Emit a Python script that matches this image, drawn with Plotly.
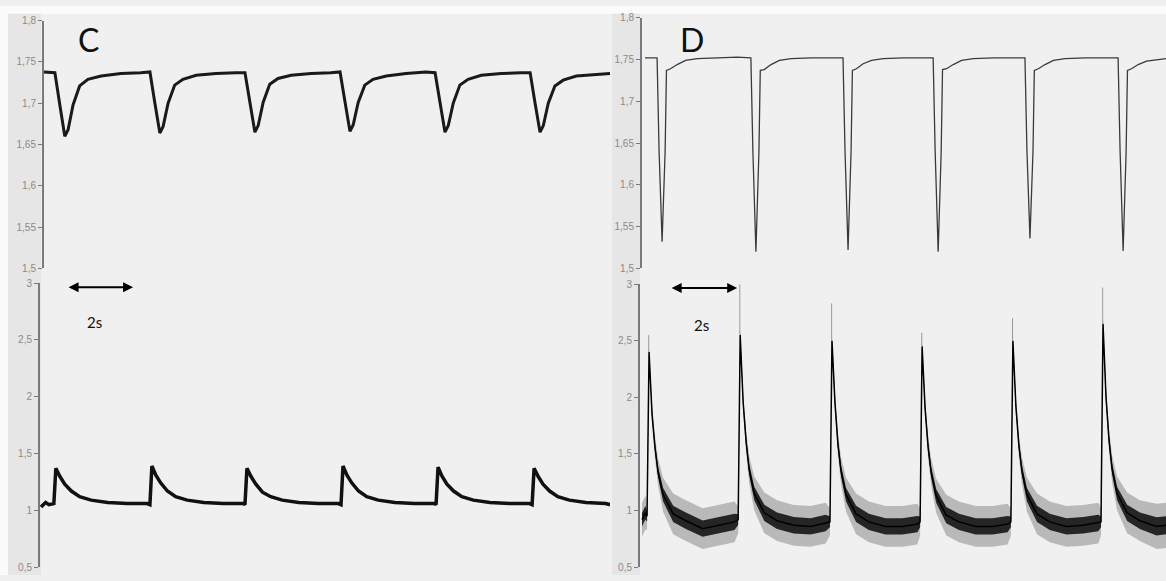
import plotly.graph_objects as go

# ---------------- data (time in s, signal in V) ----------------
C_TOP_T = [0.00, 0.30,
           0.33, 0.48, 0.63, 0.73, 0.88, 1.08, 1.33, 1.73, 2.33, 2.93,
           3.21, 3.36, 3.51, 3.61, 3.76, 3.96, 4.21, 4.61, 5.21, 5.81,
           6.09, 6.24, 6.39, 6.49, 6.64, 6.84, 7.09, 7.49, 8.09, 8.69,
           8.97, 9.12, 9.27, 9.37, 9.52, 9.72, 9.97, 10.37, 10.97, 11.57,
           11.85, 12.00, 12.15, 12.25, 12.40, 12.60, 12.85, 13.25, 13.85, 14.45,
           14.73, 14.88, 15.03, 15.13, 15.28, 15.48, 15.73, 16.13, 16.73, 17.15]
C_TOP_V = [1.738, 1.737,
           1.737, 1.698, 1.660, 1.668, 1.698, 1.721, 1.729, 1.733, 1.736, 1.737,
           1.738, 1.700, 1.664, 1.672, 1.700, 1.722, 1.729, 1.734, 1.736, 1.737,
           1.737, 1.701, 1.665, 1.673, 1.701, 1.723, 1.730, 1.734, 1.736, 1.737,
           1.738, 1.702, 1.666, 1.674, 1.701, 1.722, 1.729, 1.733, 1.736, 1.738,
           1.737, 1.701, 1.665, 1.673, 1.700, 1.722, 1.729, 1.734, 1.736, 1.737,
           1.737, 1.700, 1.665, 1.673, 1.700, 1.721, 1.728, 1.733, 1.735, 1.736]

C_BOT_T = [-0.09, 0.05, 0.15, 0.30,
           0.36, 0.48, 0.63, 0.83, 1.08, 1.43, 1.93, 2.53, 3.13, 3.21,
           3.27, 3.39, 3.54, 3.74, 3.99, 4.34, 4.84, 5.44, 6.04, 6.09,
           6.15, 6.27, 6.42, 6.62, 6.87, 7.22, 7.72, 8.32, 8.92, 9.00,
           9.06, 9.18, 9.33, 9.53, 9.78, 10.13, 10.63, 11.23, 11.83, 11.88,
           11.94, 12.06, 12.21, 12.41, 12.66, 13.01, 13.51, 14.11, 14.71, 14.79,
           14.85, 14.97, 15.12, 15.32, 15.57, 15.92, 16.42, 17.02, 17.15]
C_BOT_V = [1.03, 1.07, 1.05, 1.06,
           1.37, 1.30, 1.23, 1.17, 1.12, 1.09, 1.07, 1.06, 1.06, 1.05,
           1.39, 1.31, 1.24, 1.17, 1.12, 1.09, 1.07, 1.06, 1.06, 1.05,
           1.37, 1.30, 1.23, 1.16, 1.12, 1.09, 1.07, 1.06, 1.06, 1.05,
           1.39, 1.31, 1.24, 1.17, 1.12, 1.09, 1.07, 1.06, 1.06, 1.05,
           1.38, 1.30, 1.23, 1.17, 1.12, 1.09, 1.07, 1.06, 1.06, 1.05,
           1.37, 1.30, 1.23, 1.17, 1.12, 1.09, 1.07, 1.06, 1.05]

D_TOP_T = [0.09,
           0.45, 0.51, 0.60, 0.69, 0.73, 0.85, 1.05, 1.30, 1.65, 2.25, 2.85,
           3.25, 3.31, 3.40, 3.49, 3.53, 3.65, 3.85, 4.10, 4.45, 5.05, 5.65,
           6.00, 6.06, 6.15, 6.24, 6.28, 6.40, 6.60, 6.85, 7.20, 7.80, 8.40,
           8.69, 8.75, 8.84, 8.93, 8.97, 9.09, 9.29, 9.54, 9.89, 10.49, 11.09,
           11.43, 11.49, 11.58, 11.67, 11.71, 11.83, 12.03, 12.28, 12.63, 13.23, 13.83,
           14.21, 14.27, 14.36, 14.45, 14.49, 14.61, 14.81, 15.06, 15.41, 15.64]
D_TOP_V = [1.752,
           1.752, 1.640, 1.532, 1.640, 1.737, 1.739, 1.744, 1.749, 1.751, 1.752, 1.753,
           1.752, 1.640, 1.520, 1.640, 1.737, 1.738, 1.744, 1.749, 1.751, 1.752, 1.752,
           1.752, 1.640, 1.522, 1.640, 1.737, 1.739, 1.745, 1.749, 1.751, 1.752, 1.752,
           1.752, 1.640, 1.520, 1.640, 1.738, 1.739, 1.744, 1.749, 1.751, 1.752, 1.752,
           1.752, 1.640, 1.536, 1.640, 1.737, 1.739, 1.744, 1.749, 1.751, 1.752, 1.752,
           1.752, 1.640, 1.521, 1.640, 1.737, 1.739, 1.744, 1.748, 1.750, 1.751]

D_BOT_T = [0.00, 0.10, 0.15,
           0.21, 0.30, 0.39, 0.48, 0.63, 0.93, 1.31, 1.81, 2.31, 2.76, 2.87,
           2.93, 3.02, 3.11, 3.20, 3.35, 3.65, 4.03, 4.53, 5.03, 5.48, 5.61,
           5.67, 5.76, 5.85, 5.94, 6.09, 6.39, 6.77, 7.27, 7.77, 8.22, 8.30,
           8.36, 8.45, 8.54, 8.63, 8.78, 9.08, 9.46, 9.96, 10.46, 10.91, 11.01,
           11.07, 11.16, 11.25, 11.34, 11.49, 11.79, 12.17, 12.67, 13.17, 13.62, 13.70,
           13.76, 13.85, 13.94, 14.03, 14.18, 14.48, 14.86, 15.36, 15.64]
D_BOT_V = [0.92, 0.98, 0.95,
           2.40, 1.85, 1.55, 1.34, 1.14, 0.97, 0.91, 0.84, 0.87, 0.90, 0.92,
           2.55, 1.95, 1.60, 1.36, 1.15, 0.98, 0.91, 0.87, 0.86, 0.89, 0.90,
           2.50, 1.95, 1.58, 1.35, 1.14, 0.97, 0.90, 0.86, 0.86, 0.88, 0.90,
           2.45, 1.90, 1.56, 1.34, 1.13, 0.96, 0.90, 0.86, 0.86, 0.88, 0.90,
           2.50, 1.92, 1.57, 1.35, 1.14, 0.97, 0.90, 0.86, 0.87, 0.89, 0.90,
           2.65, 2.00, 1.62, 1.37, 1.15, 0.98, 0.91, 0.86, 0.87]
# half-spread of the noisy band around D_BOT_V
D_BOT_SPREAD = [0.15, 0.15, 0.12,
                0.05, 0.08, 0.10, 0.12, 0.15, 0.18, 0.18, 0.18, 0.18, 0.18, 0.12,
                0.05, 0.08, 0.10, 0.12, 0.15, 0.18, 0.18, 0.18, 0.18, 0.18, 0.12,
                0.05, 0.08, 0.10, 0.12, 0.15, 0.18, 0.18, 0.18, 0.18, 0.18, 0.12,
                0.05, 0.08, 0.10, 0.12, 0.15, 0.18, 0.18, 0.18, 0.18, 0.18, 0.12,
                0.05, 0.08, 0.10, 0.12, 0.15, 0.18, 0.18, 0.18, 0.18, 0.18, 0.12,
                0.05, 0.08, 0.10, 0.12, 0.15, 0.18, 0.18, 0.20, 0.20]
# thin transient spikes at each D peak
D_SPIKE_T = [0.20, 2.92, 5.66, 8.35, 11.06, 13.75]
D_SPIKE_LO = [2.40, 2.55, 2.50, 2.45, 2.50, 2.65]
D_SPIKE_HI = [2.55, 3.00, 2.83, 2.57, 2.70, 2.97]

TOP_TICKS = [1.5, 1.55, 1.6, 1.65, 1.7, 1.75, 1.8]
TOP_LABELS = ["1,5", "1,55", "1,6", "1,65", "1,7", "1,75", "1,8"]
BOT_TICKS = [0.5, 1, 1.5, 2, 2.5, 3]
BOT_LABELS = ["0,5", "1", "1,5", "2", "2,5", "3"]

# ---------------- figure ----------------
W, H = 1166, 581
fig = go.Figure()

fig.add_trace(go.Scatter(x=C_TOP_T, y=C_TOP_V, xaxis="x", yaxis="y", mode="lines",
                         line=dict(color="#1a1a1a", width=3), hoverinfo="skip"))
fig.add_trace(go.Scatter(x=C_BOT_T, y=C_BOT_V, xaxis="x2", yaxis="y2", mode="lines",
                         line=dict(color="#111111", width=3.5), hoverinfo="skip"))
fig.add_trace(go.Scatter(x=D_TOP_T, y=D_TOP_V, xaxis="x3", yaxis="y3", mode="lines",
                         line=dict(color="#3a3a3a", width=1.3), hoverinfo="skip"))

lo_out = [v - s for v, s in zip(D_BOT_V, D_BOT_SPREAD)]
hi_out = [v + s for v, s in zip(D_BOT_V, D_BOT_SPREAD)]
lo_in = [v - 0.4 * s for v, s in zip(D_BOT_V, D_BOT_SPREAD)]
hi_in = [v + 0.4 * s for v, s in zip(D_BOT_V, D_BOT_SPREAD)]
fig.add_trace(go.Scatter(x=D_BOT_T, y=lo_out, xaxis="x4", yaxis="y4", mode="lines",
                         line=dict(width=0, color="rgba(0,0,0,0)"), hoverinfo="skip"))
fig.add_trace(go.Scatter(x=D_BOT_T, y=hi_out, xaxis="x4", yaxis="y4", mode="lines",
                         line=dict(width=0, color="rgba(0,0,0,0)"), fill="tonexty",
                         fillcolor="rgba(60,60,60,0.30)", hoverinfo="skip"))
fig.add_trace(go.Scatter(x=D_BOT_T, y=lo_in, xaxis="x4", yaxis="y4", mode="lines",
                         line=dict(width=0, color="rgba(0,0,0,0)"), hoverinfo="skip"))
fig.add_trace(go.Scatter(x=D_BOT_T, y=hi_in, xaxis="x4", yaxis="y4", mode="lines",
                         line=dict(width=0, color="rgba(0,0,0,0)"), fill="tonexty",
                         fillcolor="rgba(10,10,10,0.85)", hoverinfo="skip"))
fig.add_trace(go.Scatter(x=D_BOT_T, y=D_BOT_V, xaxis="x4", yaxis="y4", mode="lines",
                         line=dict(color="#000000", width=1.5), hoverinfo="skip"))
sx, sy = [], []
for t, lo, hi in zip(D_SPIKE_T, D_SPIKE_LO, D_SPIKE_HI):
    sx += [t, t, None]
    sy += [lo, hi, None]
fig.add_trace(go.Scatter(x=sx, y=sy, xaxis="x4", yaxis="y4", mode="lines",
                         line=dict(color="#9a9a9a", width=1), hoverinfo="skip"))

def px_dom_x(a, b):
    return [a / W, b / W]

def px_dom_y(top, bottom):
    return [1 - bottom / H, 1 - top / H]

yax_common = dict(showgrid=False, zeroline=False, showline=True, linecolor="#7a7a7a",
                  linewidth=2, ticks="outside", ticklen=4, tickcolor="#7a7a7a", tickwidth=1,
                  tickfont=dict(family="Liberation Sans", size=10, color="#8a8a8a"),
                  fixedrange=True)
xax_common = dict(visible=False, showgrid=False, zeroline=False, fixedrange=True)

fig.update_layout(
    width=W, height=H, margin=dict(l=0, r=0, t=0, b=0),
    paper_bgcolor="#f0f0f0", plot_bgcolor="rgba(0,0,0,0)", showlegend=False,
    xaxis=dict(domain=px_dom_x(44, 610), range=[0, 17.15], anchor="y", **xax_common),
    yaxis=dict(domain=px_dom_y(15, 268), range=[1.5, 1.8], anchor="x",
               tickvals=TOP_TICKS, ticktext=TOP_LABELS, **yax_common),
    xaxis2=dict(domain=px_dom_x(40, 610), range=[-0.12, 17.15], anchor="y2", **xax_common),
    yaxis2=dict(domain=px_dom_y(283, 573), range=[0.5, 3], anchor="x2",
                tickvals=BOT_TICKS, ticktext=BOT_LABELS, **yax_common),
    xaxis3=dict(domain=px_dom_x(642, 1166), range=[0, 15.64], anchor="y3", **xax_common),
    yaxis3=dict(domain=px_dom_y(12, 268), range=[1.5, 1.8], anchor="x3",
                tickvals=TOP_TICKS, ticktext=TOP_LABELS, **yax_common),
    xaxis4=dict(domain=px_dom_x(640, 1166), range=[-0.06, 15.64], anchor="y4", **xax_common),
    yaxis4=dict(domain=px_dom_y(284, 573), range=[0.5, 3], anchor="x4",
                tickvals=BOT_TICKS, ticktext=BOT_LABELS, **yax_common),
)

shapes = [
    dict(type="rect", xref="paper", yref="paper", x0=0, x1=1, y0=1 - 8 / H, y1=1,
         fillcolor="#fbfbfb", line=dict(width=0), layer="below"),
    dict(type="rect", xref="paper", yref="paper", x0=0, x1=8 / W, y0=0, y1=1,
         fillcolor="#fbfbfb", line=dict(width=0), layer="below"),
    dict(type="rect", xref="paper", yref="paper", x0=8 / W, x1=41 / W, y0=0, y1=1 - 8 / H,
         fillcolor="#e6e6e6", line=dict(width=0), layer="below"),
    dict(type="rect", xref="paper", yref="paper", x0=612 / W, x1=640 / W, y0=0, y1=1 - 8 / H,
         fillcolor="#e6e6e6", line=dict(width=0), layer="below"),
]
fig.update_layout(shapes=shapes)

ann = [
    dict(text="C", xref="paper", yref="paper", x=88 / W, y=1 - 34 / H, showarrow=False,
         font=dict(family="Lato", size=32, color="#111111"), xanchor="center", yanchor="middle"),
    dict(text="D", xref="paper", yref="paper", x=692 / W, y=1 - 34 / H, showarrow=False,
         font=dict(family="Lato", size=32, color="#111111"), xanchor="center", yanchor="middle"),
    dict(text="2s", xref="x2", yref="y2", x=1.52, y=2.66, showarrow=False,
         font=dict(family="Lato", size=15, color="#111111")),
    dict(text="2s", xref="x4", yref="y4", x=1.79, y=2.64, showarrow=False,
         font=dict(family="Lato", size=15, color="#111111")),
    dict(text="", xref="x2", yref="y2", axref="x2", ayref="y2", x=2.70, y=2.965, ax=0.70, ay=2.965,
         showarrow=True, arrowhead=2, startarrowhead=2, arrowside="end+start",
         arrowwidth=2, arrowsize=1, startarrowsize=1, arrowcolor="#000000"),
    dict(text="", xref="x4", yref="y4", axref="x4", ayref="y4", x=2.84, y=2.965, ax=0.84, ay=2.965,
         showarrow=True, arrowhead=2, startarrowhead=2, arrowside="end+start",
         arrowwidth=2, arrowsize=1, startarrowsize=1, arrowcolor="#000000"),
]
fig.update_layout(annotations=ann)

fig.write_html("out.html", config={"displayModeBar": False},
               post_script="document.body.style.margin='0';document.body.style.overflow='hidden';")
